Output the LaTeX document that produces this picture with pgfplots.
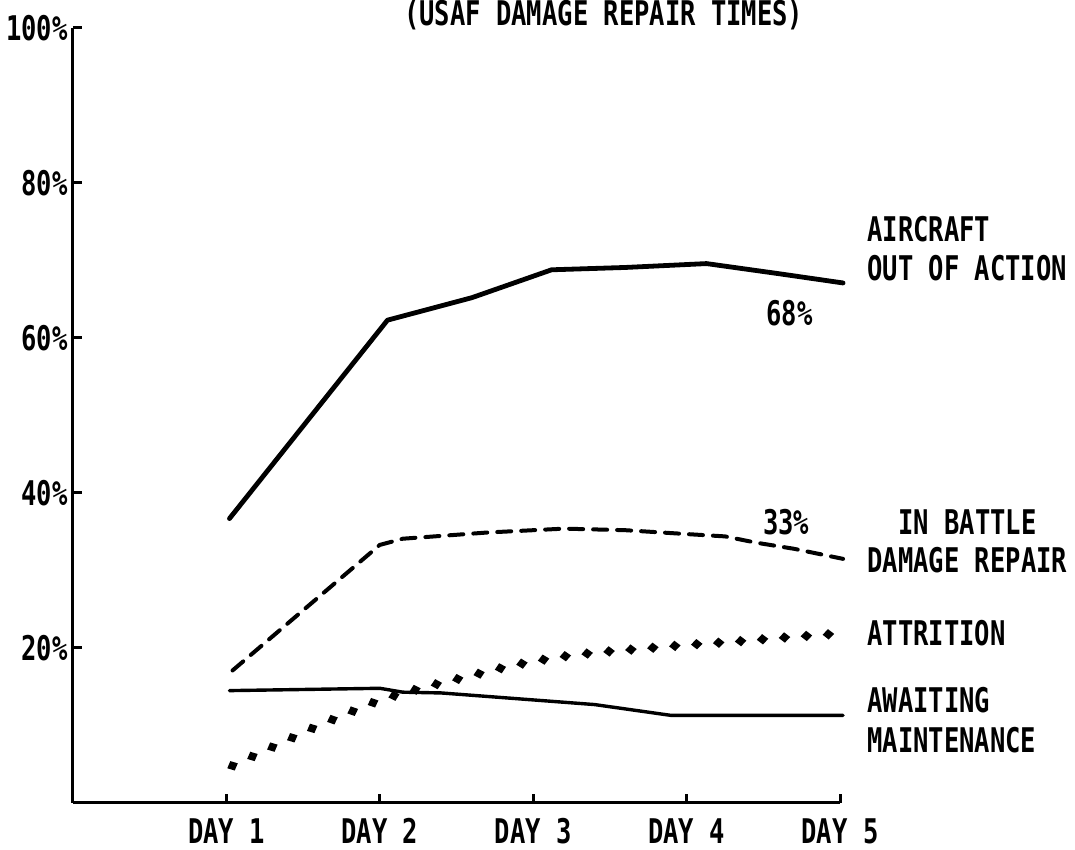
\documentclass[border=0pt]{standalone}
\usepackage{fontspec}
\usepackage{pgfplots}
\pgfplotsset{compat=1.18}
\usetikzlibrary{decorations.markings}
\newfontfamily\chartfont{DejaVu Sans Mono}[FakeStretch=0.75]
\newcommand{\cf}{\chartfont\bfseries\fontsize{17pt}{20pt}\selectfont}

\pgfplotstableread{
x y
1.02 36.7
2.05 62.3
2.6 65.2
3.12 68.8
3.6 69.1
4.13 69.6
4.6 68.3
5.02 67.1
}\aoa
\pgfplotstableread{
x y
1.04 17.1
2.0 33.3
2.15 34.1
2.7 34.9
3.2 35.4
3.6 35.2
4.0 34.7
4.25 34.4
4.45 33.6
4.7 32.8
5.02 31.5
}\bdr
\pgfplotstableread{
x y
1.04 4.8
1.6 10.0
2.0 13.3
2.3 15.0
2.55 16.2
2.85 17.7
3.15 18.8
3.4 19.4
3.7 19.9
4.0 20.4
4.3 20.8
4.6 21.3
5.02 21.9
}\attr
\pgfplotstableread{
x y
1.02 14.5
2.0 14.8
2.15 14.3
2.4 14.2
3.0 13.3
3.4 12.7
3.9 11.3
5.02 11.3
}\await

\begin{document}
\begin{tikzpicture}
\begin{axis}[
  at={(0,0)}, anchor=south west,
  scale only axis, width=383.5pt, height=387.5pt,
  xmin=0, xmax=5, ymin=0, ymax=100,
  axis x line=bottom, axis y line=left,
  axis line style={line width=1.5pt, -},
  xtick={1,2,3,4,5}, xticklabels={DAY 1,DAY 2,DAY 3,DAY 4,DAY 5},
  ytick={20,40,60,80,100}, yticklabels={20\%,40\%,60\%,80\%,100\%},
  tick align=inside, major tick length=4.5pt,
  tick style={line width=1.5pt, black},
  tick label style={font=\cf},
  xticklabel style={anchor=north, inner sep=0pt, yshift=-7.5pt},
  yticklabel style={anchor=east, inner sep=0pt, xshift=-2.5pt},
  clip=false,
]
\addplot[black, line width=2.4pt, line join=round, line cap=round] table {\aoa};
\addplot[black, line width=2pt, line cap=round, dash pattern=on 7pt off 5pt] table {\bdr};
\addplot[draw=none, postaction={decorate}, decoration={markings,
   mark=between positions 0 and 1 step 11pt with {\fill[black] (-2.9pt,0) -- (0,2.6pt) -- (2.9pt,0) -- (0,-2.6pt) -- cycle;}}] table {\attr};
\addplot[black, line width=1.7pt, line join=round, line cap=round] table {\await};

\node[font=\cf, anchor=base] at (axis cs:3.46,100.3) {(USAF DAMAGE REPAIR TIMES)};
\node[font=\cf, anchor=base west, inner sep=0pt] at (axis cs:5.176,72.5) {AIRCRAFT};
\node[font=\cf, anchor=base west, inner sep=0pt] at (axis cs:5.176,67.4) {OUT OF ACTION};
\node[font=\cf, inner sep=0pt] at (axis cs:4.67,63.2) {68\%};
\node[font=\cf, inner sep=0pt] at (axis cs:4.65,36.3) {33\%};
\node[font=\cf, anchor=base, inner sep=0pt] at (axis cs:5.83,34.6) {IN BATTLE};
\node[font=\cf, anchor=base, inner sep=0pt] at (axis cs:5.83,29.8) {DAMAGE REPAIR};
\node[font=\cf, anchor=base west, inner sep=0pt] at (axis cs:5.176,20.3) {ATTRITION};
\node[font=\cf, anchor=base west, inner sep=0pt] at (axis cs:5.176,11.7) {AWAITING};
\node[font=\cf, anchor=base west, inner sep=0pt] at (axis cs:5.176,6.5) {MAINTENANCE};
\end{axis}
\pgfresetboundingbox
\useasboundingbox (-36.5pt,-23.5pt) rectangle (501pt,401.5pt);
\end{tikzpicture}
\end{document}
